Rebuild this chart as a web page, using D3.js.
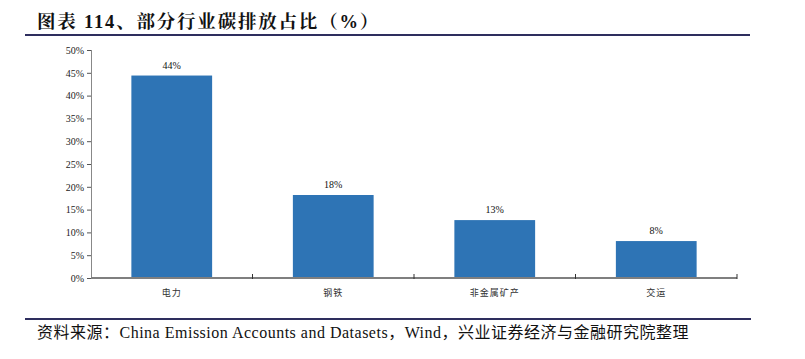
<!DOCTYPE html>
<html>
<head>
<meta charset="utf-8">
<script src="https://cdn.jsdelivr.net/npm/d3@7"></script>
<style>
body{margin:0;background:#fff}
svg{display:block}
</style>
</head>
<body>
<script>
// data
var categories=["电力","钢铁","非金属矿产","交运"]
var values=[44.4,18.2,12.7,8.1]
var labels=["44%","18%","13%","8%"]
var yTicks=[0,5,10,15,20,25,30,35,40,45,50]

var screen={width:805,height:359}
var margins={top:50,right:68,bottom:81,left:91}
var height=screen.height-margins.top-margins.bottom
var width=screen.width-margins.left-margins.right

var svg=d3.select("body").append("svg")
          .attr("width",screen.width)
          .attr("height",screen.height)

//title + rules
svg.append("text")
   .attr("x",37).attr("y",28)
   .style("font-family","'Liberation Serif','Noto Serif CJK SC','Noto Sans CJK SC',serif")
   .style("font-weight","bold")
   .style("font-size","18.5px")
   .style("letter-spacing","1.8px")
   .style("white-space","pre")
   .attr("fill","#111")
   .text("图表 114、部分行业碳排放占比（%）")
svg.append("line")
   .attr("x1",25).attr("x2",750).attr("y1",35).attr("y2",35)
   .style("stroke","#2e2e5e").style("stroke-width",2)
svg.append("line")
   .attr("x1",25).attr("x2",751).attr("y1",319).attr("y2",319)
   .style("stroke","#2e2e5e").style("stroke-width",2)
svg.append("text")
   .attr("x",37).attr("y",338)
   .style("font-family","'Liberation Serif','Noto Sans CJK SC',serif")
   .style("font-size","16px")
   .style("letter-spacing","0.5px")
   .attr("fill","#111")
   .text("资料来源：China Emission Accounts and Datasets，Wind，兴业证券经济与金融研究院整理")

var xScale=d3.scaleBand()
   .domain(categories)
   .range([0,width])
   .paddingInner(0.5)
   .paddingOuter(0.25)
var yScale=d3.scaleLinear()
   .domain([0,50])
   .range([height,0])

var plot=svg.append("g")
   .attr("transform","translate("+margins.left+","+margins.top+")")

plot.selectAll("rect")
   .data(values)
   .enter()
   .append("rect")
   .attr("x",function(d,i){return xScale(categories[i])})
   .attr("y",function(d){return yScale(d)})
   .attr("width",xScale.bandwidth())
   .attr("height",function(d){return height-yScale(d)})
   .attr("fill","#2e74b5")

plot.selectAll(".lbl")
   .data(values)
   .enter()
   .append("text")
   .attr("class","lbl")
   .attr("x",function(d,i){return xScale(categories[i])+xScale.bandwidth()/2})
   .attr("y",function(d){return yScale(d)-7})
   .attr("text-anchor","middle")
   .style("font-family","'Liberation Serif',serif")
   .style("font-size","10px")
   .attr("fill","#111")
   .text(function(d,i){return labels[i]})

//axes
var yAxis=d3.axisLeft(yScale)
   .tickValues(yTicks)
   .tickSize(4)
   .tickFormat(function(d){return d+"%"})
var gy=plot.append("g").call(yAxis)
gy.select(".domain").attr("d","M0.5,0V"+height).style("stroke","#888")
gy.selectAll(".tick line").style("stroke","#555")
gy.selectAll(".tick text")
   .style("font-family","'Liberation Serif',serif")
   .style("font-size","10px")
   .attr("fill","#222")

var edges=d3.scaleLinear().domain([0,categories.length]).range([0,width])
var gx=plot.append("g").attr("transform","translate(0,"+height+")")
gx.append("line")
   .attr("x1",0).attr("x2",width).attr("y1",0).attr("y2",0)
   .style("stroke","#7f7f7f").style("stroke-width",2)
gx.selectAll(".xt")
   .data(d3.range(1,categories.length+1))
   .enter()
   .append("line")
   .attr("x1",function(d){return edges(d)}).attr("x2",function(d){return edges(d)})
   .attr("y1",-4).attr("y2",1)
   .style("stroke","#333")
gx.selectAll(".xl")
   .data(categories)
   .enter()
   .append("text")
   .attr("x",function(d){return xScale(d)+xScale.bandwidth()/2})
   .attr("y",18)
   .attr("text-anchor","middle")
   .style("font-family","'Noto Sans CJK SC',sans-serif")
   .style("font-size","9px")
   .style("letter-spacing","1px")
   .attr("fill","#333")
   .text(function(d){return d})
</script>
</body>
</html>
